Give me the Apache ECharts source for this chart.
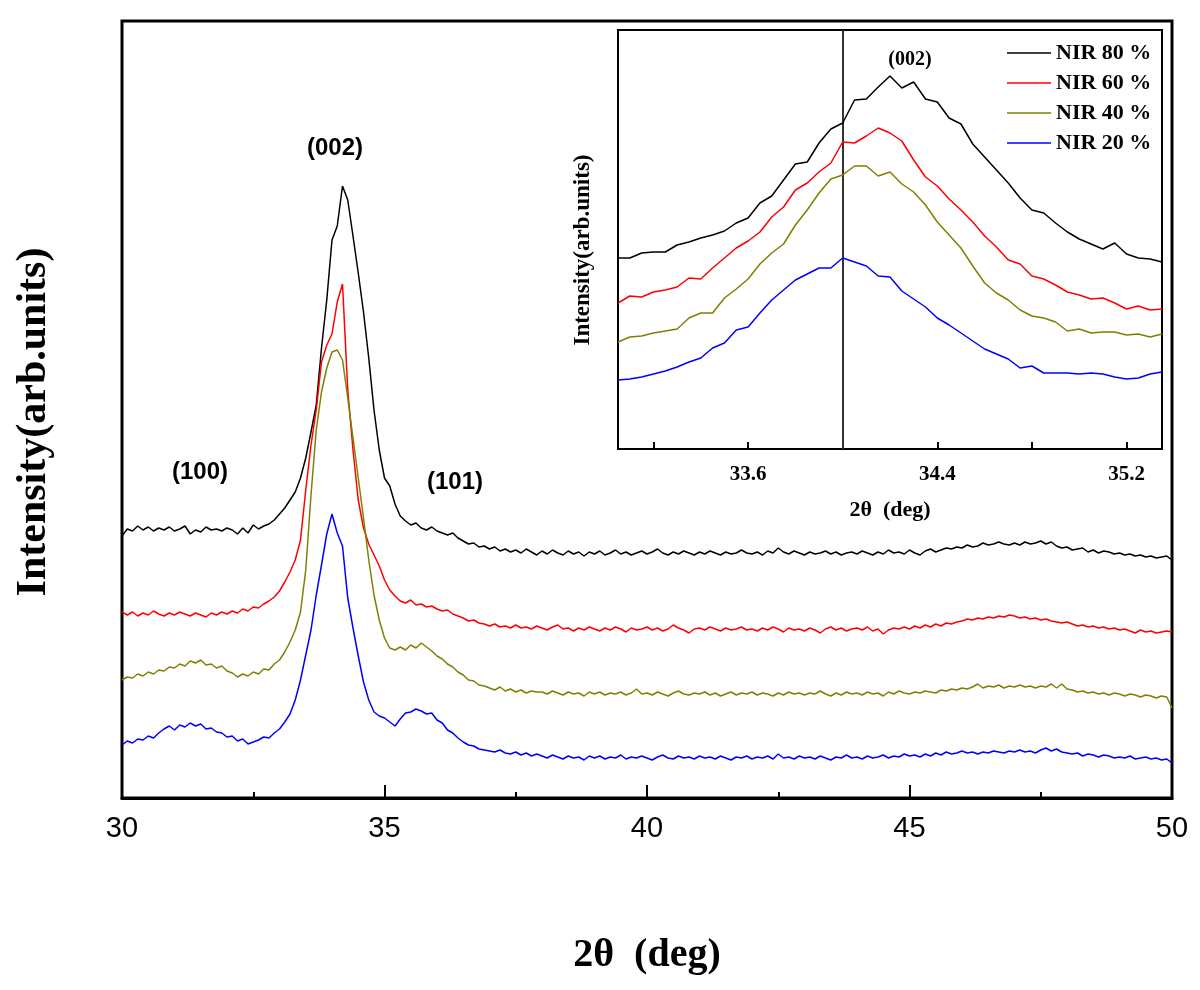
<!DOCTYPE html>
<html>
<head>
<meta charset="utf-8">
<script src="https://cdn.jsdelivr.net/npm/echarts@6/dist/echarts.min.js"></script>
<style>html,body{margin:0;padding:0;background:#fff;}#chart{width:1200px;height:990px;}</style>
</head>
<body>
<div id="chart"></div>
<script>
// Main pattern: 2θ from 30 to 50 in steps of 0.1 (values in arbitrary units, curves vertically offset)
const mainStart = 30, mainStep = 0.1;
const mainNames = ['NIR 80 %', 'NIR 60 %', 'NIR 40 %', 'NIR 20 %'];
const main80 = [262,269,267,272,268,271,267,270,268,271, 267,269,272,264,268,266,271,268,269,267,
  270,268,264,270,265,273,269,272,274,278, 284,290,298,306,320,340,366,393,450,498,
  558,572,612,598,562,525,486,440,388,348, 320,312,294,282,277,273,275,270,268,271,
  267,265,263,265,260,257,254,255,251,252, 249,251,247,249,246,248,245,249,246,243,
  247,244,248,245,243,247,244,246,242,246, 244,247,243,245,248,244,246,243,245,247,
  244,246,249,245,243,246,244,247,245,243, 246,244,247,245,243,246,244,245,248,245,
  244,246,243,247,245,250,246,244,247,245, 243,246,244,245,247,244,246,243,245,246,
  244,247,245,243,246,244,248,245,246,244, 248,245,243,247,249,246,248,250,249,251,
  250,253,251,252,255,253,254,256,254,253, 255,253,256,254,255,257,254,256,252,250,
  251,248,249,250,246,248,245,247,246,244, 245,243,244,242,243,241,242,240,241,242,238];
const main60 = [186,183,186,182,185,183,187,184,182,185, 183,186,184,182,185,183,181,185,183,186,
  184,187,185,189,187,191,190,194,197,201, 207,216,226,238,258,308,353,388,436,453,
  464,496,514,408,348,298,270,254,243,232, 218,208,202,197,195,198,193,194,191,192,
  189,187,188,184,182,180,177,178,175,174, 172,174,171,172,170,173,170,171,169,172,
  170,168,171,173,169,170,167,170,168,171, 169,167,170,168,171,169,166,170,168,169,
  171,168,170,167,169,173,170,168,165,169, 170,168,171,169,167,170,168,169,171,168,
  169,167,170,168,171,169,166,170,168,169, 167,170,168,165,169,171,168,170,167,169,
  170,168,171,167,169,164,168,170,169,171, 169,172,170,173,171,174,172,175,174,176,
  177,179,178,180,179,181,180,182,181,183, 182,180,181,179,180,178,179,177,176,175,
  176,174,172,173,171,172,170,171,169,170, 168,169,167,165,168,166,167,165,166,167,166];
const main40 = [118,121,120,124,122,126,124,128,127,131, 130,134,132,137,135,138,133,134,130,132,
  127,125,121,124,122,126,124,129,128,134, 138,146,156,168,186,228,303,368,406,430,
  446,448,438,400,360,320,280,238,203,178, 160,150,148,151,148,153,150,155,151,147,
  142,139,134,131,126,123,118,117,113,112, 110,108,111,107,109,106,108,105,107,106,
  106,104,107,105,103,106,104,105,102,106, 104,106,103,105,104,106,103,105,109,104,
  105,103,106,104,102,105,107,104,103,105, 104,106,103,105,102,104,106,103,105,104,
  106,103,105,104,102,105,103,106,104,105, 103,105,104,107,104,102,105,103,106,104,
  105,103,106,104,105,102,106,104,107,105, 104,106,105,107,106,105,108,107,109,108,
  110,109,111,114,110,112,111,113,110,112, 111,113,111,112,110,112,111,114,110,114,
  109,108,106,107,105,106,104,105,103,105, 104,102,104,103,101,103,102,100,102,101,90];
const main20 = [53,57,55,59,58,62,60,65,69,72, 68,73,71,75,72,74,69,70,66,65,
  61,62,57,59,54,56,58,61,60,65, 69,76,84,98,118,143,168,203,233,264,
  284,265,252,200,170,142,116,98,86,82, 80,76,72,79,85,86,89,87,84,85,
  78,75,68,65,60,56,53,52,49,48, 47,46,48,45,44,46,43,45,42,44,
  42,40,43,41,39,42,40,41,38,42, 40,42,39,41,40,43,39,41,40,42,
  40,38,41,43,40,39,42,40,41,39, 42,40,41,39,42,40,38,41,40,42,
  39,41,40,42,39,44,40,41,39,42, 40,41,39,42,40,38,41,40,43,40,
  41,39,42,40,41,43,40,42,41,44, 42,43,41,44,42,45,43,46,44,45,
  47,45,46,44,46,45,47,46,45,47, 46,48,46,47,45,48,50,47,49,46,
  45,44,45,42,44,43,41,43,42,40, 41,40,42,39,40,41,39,40,38,39,35];

// Inset: 2θ from 33.05 to 35.35 in steps of 0.05
const insetStart = 33.05, insetStep = 0.05, insetEnd = 35.35;
const inset80 = [191,191,196,197,197,204,207,211,214,218,226,231,246,253,269,285,287,306,320,326,
  349,350,362,373,361,367,350,347,331,325,305,292,279,266,251,239,236,226,217,210,205,200,206,195,191,190,187];
const inset60 = [146,153,152,157,159,162,171,170,181,191,201,208,217,232,242,259,266,277,286,307,
  306,313,321,316,308,289,272,263,250,239,227,213,202,189,185,173,170,164,157,154,150,151,146,140,143,139,140];
const inset40 = [107,112,113,116,118,120,131,136,136,151,160,170,185,196,205,224,239,256,270,274,
  283,283,273,277,265,257,244,227,214,201,183,166,156,149,139,133,131,127,118,120,116,117,117,114,115,112,115];
const inset20 = [69,70,72,75,78,82,87,91,101,106,119,122,136,149,159,169,175,181,181,191,
  187,183,173,172,158,150,142,131,124,116,108,100,95,90,81,83,76,76,76,75,76,75,72,70,71,75,77];

const mainTicks = [30, 35, 40, 45, 50];
const insetTickLabels = [33.6, 34.4, 35.2];
const insetTicks = [33.2, 33.6, 34.0, 34.4, 34.8, 35.2];
const insetMarker = 34.0;
const colors = ['#000000', '#ff0000', '#808000', '#0000ff'];

function toPairs(arr, start, step) {
  return arr.map((v, i) => [+(start + i * step).toFixed(3), v]);
}

const serif = 'Liberation Serif, Times New Roman, serif';
const sans = 'Liberation Sans, Arial, sans-serif';

const mainSeries = [main80, main60, main40, main20].map((arr, k) => ({
  name: mainNames[k], type: 'line', xAxisIndex: 0, yAxisIndex: 0,
  data: toPairs(arr, mainStart, mainStep), symbol: 'none', showSymbol: false,
  lineStyle: { color: colors[k], width: 1.5 }, itemStyle: { color: colors[k] }, z: 3
}));
const insetSeries = [inset80, inset60, inset40, inset20].map((arr, k) => ({
  name: mainNames[k], type: 'line', xAxisIndex: 1, yAxisIndex: 1,
  data: toPairs(arr, insetStart, insetStep), symbol: 'none', showSymbol: false,
  lineStyle: { color: colors[k], width: 1.5 }, itemStyle: { color: colors[k] }, z: 5
}));
insetSeries[3].markLine = {
  silent: true, symbol: ['none', 'none'], label: { show: false },
  lineStyle: { color: '#333', width: 2, type: 'solid' },
  data: [{ xAxis: insetMarker }]
};

const chart = echarts.init(document.getElementById('chart'), null, { renderer: 'canvas' });
chart.setOption({
  animation: false,
  backgroundColor: '#fff',
  grid: [
    { left: 122, top: 21, width: 1050, height: 777, show: true, borderColor: '#000', borderWidth: 3 },
    { left: 618, top: 30, width: 544, height: 419, show: true, borderColor: '#000', borderWidth: 2, backgroundColor: '#fff' }
  ],
  xAxis: [
    { gridIndex: 0, type: 'value', min: mainTicks[0], max: mainTicks[mainTicks.length - 1], interval: 5,
      name: '2θ  (deg)', nameLocation: 'middle', nameGap: 138,
      nameTextStyle: { fontFamily: serif, fontWeight: 'bold', fontSize: 40, color: '#000' },
      axisLine: { lineStyle: { color: '#000', width: 3 } },
      axisTick: { inside: true, length: 13, lineStyle: { color: '#000', width: 2 } },
      minorTick: { show: true, splitNumber: 2, length: 6, lineStyle: { color: '#000', width: 2 } },
      axisLabel: { margin: 16, fontFamily: sans, fontSize: 29, color: '#000' },
      splitLine: { show: false }, minorSplitLine: { show: false } },
    { gridIndex: 1, type: 'value', min: insetStart, max: insetEnd,
      name: '2θ  (deg)', nameLocation: 'middle', nameGap: 50,
      nameTextStyle: { fontFamily: serif, fontWeight: 'bold', fontSize: 22, color: '#000' },
      axisLine: { lineStyle: { color: '#000', width: 2 } },
      axisTick: { customValues: insetTicks, inside: true, length: 7, lineStyle: { color: '#000', width: 2 } },
      axisLabel: { customValues: insetTickLabels, formatter: v => (+v).toFixed(1), margin: 15,
        fontFamily: serif, fontWeight: 'bold', fontSize: 21, color: '#000' },
      splitLine: { show: false } }
  ],
  yAxis: [
    { gridIndex: 0, type: 'value', min: 0, max: 777, show: false },
    { gridIndex: 1, type: 'value', min: 0, max: 419, show: false }
  ],
  legend: {
    data: mainNames, left: 1002, top: 37, orient: 'vertical', icon: 'rect', itemWidth: 44, itemHeight: 1.5, itemGap: 8,
    textStyle: { fontFamily: serif, fontWeight: 'bold', fontSize: 22, color: '#000' },
    selectedMode: false
  },
  graphic: [
    { type: 'text', x: 34, y: 422, rotation: Math.PI / 2, style: { text: 'Intensity(arb.units)', align: 'center', verticalAlign: 'middle', font: 'bold 42px Liberation Serif, Times New Roman, serif', fill: '#000' } },
    { type: 'text', x: 583, y: 250, rotation: Math.PI / 2, style: { text: 'Intensity(arb.units)', align: 'center', verticalAlign: 'middle', font: 'bold 23px Liberation Serif, Times New Roman, serif', fill: '#000' } },
    { type: 'text', x: 335, y: 148, style: { text: '(002)', align: 'center', verticalAlign: 'middle', font: 'bold 24px Liberation Sans, Arial, sans-serif', fill: '#000' } },
    { type: 'text', x: 200, y: 472, style: { text: '(100)', align: 'center', verticalAlign: 'middle', font: 'bold 24px Liberation Sans, Arial, sans-serif', fill: '#000' } },
    { type: 'text', x: 455, y: 482, style: { text: '(101)', align: 'center', verticalAlign: 'middle', font: 'bold 24px Liberation Sans, Arial, sans-serif', fill: '#000' } },
    { type: 'text', x: 910, y: 60, z: 100, style: { text: '(002)', align: 'center', verticalAlign: 'middle', font: 'bold 20px Liberation Serif, Times New Roman, serif', fill: '#000' } }
  ],
  series: mainSeries.concat(insetSeries)
});
</script>
</body>
</html>
